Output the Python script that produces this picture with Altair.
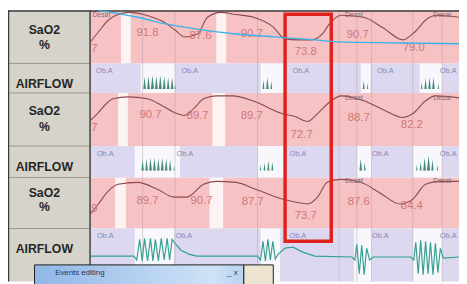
import altair as alt
import pandas as pd

# ---------------- data (screen-time units) ----------------
sao2_top = [8, 92, 178]
sao2_bot = [62, 146, 230]
air_top = [62, 146, 230]
air_bot = [92, 178, 284]

# white (no desaturation) strips in SaO2 rows
sgap_row = [0, 0, 1, 1, 2, 2]
sgap_x1 = [123, 220, 120, 216, 117, 213]
sgap_x2 = [133, 230, 130, 229, 128, 227]

# white (breathing) segments in airflow rows
agap_row = [0, 0, 0, 0, 1, 1, 1, 1, 2, 2, 2, 2]
agap_x1 = [143, 265, 367, 427, 137, 262, 363, 420, 137, 265, 360, 420]
agap_x2 = [178, 289, 377, 450, 183, 290, 378, 450, 177, 285, 378, 450]

# faint event boundary lines
event_x = [145, 178, 262, 345, 363, 378, 420, 450]

# SaO2 traces
s1_x = [92, 100, 110, 118, 131, 145, 155, 167, 178, 188, 201, 211, 225, 238, 258, 278, 290, 303, 317, 328, 335, 347, 370, 390, 410, 422, 434, 444, 467]
s1_y = [40, 30, 18, 13, 10, 12, 15, 20, 28, 35, 32, 15, 10, 12, 15, 25, 37, 38, 38, 32, 22, 13, 15, 26, 38, 30, 17, 13, 15]
s2_x = [92, 100, 108, 115, 130, 150, 165, 180, 187, 197, 207, 220, 237, 257, 287, 300, 313, 323, 337, 347, 370, 390, 410, 420, 433, 443, 467]
s2_y = [120, 112, 103, 98, 96, 98, 105, 113, 115, 108, 98, 95, 95, 100, 113, 116, 121, 113, 100, 95, 100, 109, 117, 113, 100, 95, 97]
s3_x = [92, 100, 110, 120, 140, 160, 177, 190, 207, 220, 240, 260, 287, 300, 313, 323, 333, 347, 367, 387, 407, 420, 433, 447, 467]
s3_y = [215, 205, 192, 185, 183, 190, 198, 198, 185, 182, 183, 190, 200, 203, 205, 198, 183, 180, 183, 194, 205, 200, 185, 182, 182]

# SaO2 value labels
val_x = [88, 150, 204, 256, 311, 364, 421,
         88, 153, 201, 256, 307, 365, 419,
         88, 150, 205, 257, 311, 365, 419]
val_y = [47, 31, 34, 32, 50, 33, 46,
         128, 115, 116, 116, 135, 118, 125,
         210, 202, 202, 203, 217, 203, 207]
val_t = ["87.7", "91.8", "87.6", "90.7", "73.8", "90.7", "79.0",
         "88.7", "90.7", "89.7", "89.7", "72.7", "88.7", "82.2",
         "89.9", "89.7", "90.7", "87.7", "73.7", "87.6", "84.4"]

# "Desat" markers
des_x = [103, 360, 450, 360, 450, 360, 450]
des_y = [13, 13, 13, 97, 97, 182, 182]

# "Ob.A" event labels
oba_x = [106, 193, 306, 392, 456, 107, 188, 303, 387, 456, 107, 187, 303, 387, 456]
oba_y = [70, 70, 70, 70, 70, 154, 154, 154, 154, 154, 238, 238, 238, 238, 238]

# airflow breath spikes (rows 1-2)
spk_x = [147, 151, 155, 159, 163, 167, 171, 175, 178, 268, 272, 276, 370, 374, 429, 433, 437, 441, 446,
         145, 149, 153, 157, 161, 165, 169, 173, 177, 265, 269, 273, 277, 367, 371, 424, 428, 432, 436, 440, 445]
spk_base = [88] * 19 + [171] * 21
spk_h = [12, 13, 14, 13, 14, 13, 12, 12, 5, 9, 12, 8, 9, 6, 7, 11, 12, 12, 6,
         11, 12, 13, 13, 12, 13, 12, 11, 5, 6, 8, 10, 9, 12, 8, 6, 9, 13, 15, 11, 6]

# airflow trace row 3
a3_x = [92, 136, 139, 142, 144.5, 147, 150, 153, 155.5, 158, 161, 164, 167, 170, 172.5, 175, 178,
        184, 192, 200, 262, 265, 267.5, 270, 272.5, 275, 277.5, 280, 283,
        290, 298, 308, 320, 358, 361, 363, 365.5, 368, 370.5, 373, 376, 380,
        418, 421, 423, 425.5, 428, 430.5, 433, 435.5, 438, 440.5, 443, 445.5, 448, 451, 467]
a3_y = [258, 258, 262, 241, 263, 240, 263, 240, 263, 241, 263, 240, 262, 240, 262, 241, 245,
        252, 256, 258, 258, 262, 243, 263, 241, 262, 243, 261, 256,
        250, 249, 254, 258, 259, 262, 246, 276, 247, 277, 250, 262, 259,
        259, 262, 244, 276, 242, 277, 243, 276, 244, 277, 245, 275, 250, 260, 259]

# cyan overlay line
cy_x = [100, 140, 170, 200, 240, 280, 320, 344, 400, 467]
cy_y = [8, 15, 22, 27, 32, 35, 38, 40, 41, 42]

# red highlight box
box = dict(x1=290, x2=337, y1=12, y2=243)

# label column texts
lab_t = ["SaO2", "%", "AIRFLOW", "SaO2", "%", "AIRFLOW", "SaO2", "%", "AIRFLOW"]
lab_y = [28, 43, 83, 110, 127, 167, 194, 208, 251]
sep_y = [62, 92, 146, 178, 230]

# ---------------- chart ----------------
XS = alt.Scale(domain=[8, 467], nice=False, zero=False)
YS = alt.Scale(domain=[8, 284], nice=False, zero=False, reverse=True)

def X(f="x"):
    return alt.X(f + ":Q", scale=XS, axis=None)

def Y(f="y"):
    return alt.Y(f + ":Q", scale=YS, axis=None)

def rects(df, color, **kw):
    return alt.Chart(df).mark_rect(color=color, **kw).encode(
        x=X("x1"), x2="x2:Q", y=Y("y1"), y2="y2:Q")

pink = rects(pd.DataFrame({"x1": [92] * 3, "x2": [467] * 3, "y1": sao2_top, "y2": sao2_bot}), "#f6c2c4")
sg = pd.DataFrame({"x1": sgap_x1, "x2": sgap_x2,
                   "y1": [sao2_top[r] for r in sgap_row], "y2": [sao2_bot[r] for r in sgap_row]})
swhite = rects(sg, "#fdf3f3")
lav = rects(pd.DataFrame({"x1": [92] * 3, "x2": [467] * 3, "y1": air_top, "y2": air_bot}), "#dbd8ef")
ag = pd.DataFrame({"x1": agap_x1, "x2": agap_x2,
                   "y1": [air_top[r] for r in agap_row], "y2": [air_bot[r] for r in agap_row]})
awhite = rects(ag, "#f8f8fc")

ev = alt.Chart(pd.DataFrame({"x": event_x, "y1": [8] * len(event_x), "y2": [284] * len(event_x)})).mark_rule(
    color="#b89aa4", opacity=0.45, strokeWidth=1).encode(x=X(), y=Y("y1"), y2="y2:Q")

tr = pd.concat([
    pd.DataFrame({"x": s1_x, "y": s1_y, "row": 1}),
    pd.DataFrame({"x": s2_x, "y": s2_y, "row": 2}),
    pd.DataFrame({"x": s3_x, "y": s3_y, "row": 3}),
])
sline = alt.Chart(tr).mark_line(color="#8e4a4e", strokeWidth=1.1, interpolate="monotone").encode(
    x=X(), y=Y(), detail="row:N")

vals = alt.Chart(pd.DataFrame({"x": val_x, "y": val_y, "t": val_t})).mark_text(
    font="Liberation Sans", fontSize=11.5, color="#d27678").encode(x=X(), y=Y(), text="t:N")

des = alt.Chart(pd.DataFrame({"x": des_x, "y": des_y, "t": ["Desat"] * len(des_x)})).mark_text(
    font="Liberation Sans", fontSize=7, color="#8a6a70").encode(x=X(), y=Y(), text="t:N")

oba = alt.Chart(pd.DataFrame({"x": oba_x, "y": oba_y, "t": ["Ob.A"] * len(oba_x)})).mark_text(
    font="Liberation Sans", fontSize=7.5, color="#8a88b0").encode(x=X(), y=Y(), text="t:N")

sp = pd.DataFrame({"x": spk_x, "y": spk_base, "h": spk_h})
sp["sz"] = sp["h"] ** 2
spikes = alt.Chart(sp).mark_point(filled=True, shape="M-0.22,0L0,-2L0.22,0Z", color="#2f7d6c",
                                  opacity=0.9).encode(x=X(), y=Y(), size=alt.Size("sz:Q", scale=None, legend=None))

a3 = alt.Chart(pd.DataFrame({"x": a3_x, "y": a3_y})).mark_line(
    color="#35a091", strokeWidth=1.2).encode(x=X(), y=Y())

redbox = alt.Chart(pd.DataFrame([box])).mark_rect(
    fill=None, fillOpacity=0, stroke="#e2201e", strokeWidth=3.5).encode(
    x=X("x1"), x2="x2:Q", y=Y("y1"), y2="y2:Q")

labcol = rects(pd.DataFrame({"x1": [8], "x2": [91], "y1": [8], "y2": [284]}), "#d6d3ca")
seps = alt.Chart(pd.DataFrame({"x1": [8] * 5, "x2": [91] * 5, "y": sep_y})).mark_rule(
    color="#9a978e", strokeWidth=1).encode(x=X("x1"), x2="x2:Q", y=Y())
labs = alt.Chart(pd.DataFrame({"x": [45] * 9, "y": lab_y, "t": lab_t})).mark_text(
    font="Liberation Sans", fontSize=12.5, fontWeight="bold", color="#262626").encode(
    x=X(), y=Y(), text="t:N")

frame_v = alt.Chart(pd.DataFrame({"x": [8.5, 91.5], "y1": [8, 8], "y2": [284, 284]})).mark_rule(
    color="#3a3a3a", strokeWidth=1.5).encode(x=X(), y=Y("y1"), y2="y2:Q")
frame_h = alt.Chart(pd.DataFrame({"x1": [8], "x2": [467], "y": [8.5]})).mark_rule(
    color="#3a3a3a", strokeWidth=1.5).encode(x=X("x1"), x2="x2:Q", y=Y())

cyan = alt.Chart(pd.DataFrame({"x": cy_x, "y": cy_y})).mark_line(
    color="#3ab2ea", strokeWidth=1.4, interpolate="monotone").encode(x=X(), y=Y())

grad = alt.Gradient(gradient="linear", x1=0, x2=1, y1=0, y2=0,
                    stops=[alt.GradientStop(color="#8fb7e6", offset=0),
                           alt.GradientStop(color="#cfe2f7", offset=0.85),
                           alt.GradientStop(color="#b9d3f0", offset=1)])
dlg = alt.Chart(pd.DataFrame({"x1": [35], "x2": [248], "y1": [267], "y2": [290]})).mark_rect(
    color=grad, stroke="#1e1e1e", strokeWidth=1).encode(x=X("x1"), x2="x2:Q", y=Y("y1"), y2="y2:Q")
dlg2 = alt.Chart(pd.DataFrame({"x1": [248], "x2": [278], "y1": [267], "y2": [290]})).mark_rect(
    color="#ede5d2", stroke="#1e1e1e", strokeWidth=1).encode(x=X("x1"), x2="x2:Q", y=Y("y1"), y2="y2:Q")
dlg_t = alt.Chart(pd.DataFrame({"x": [56, 231], "y": [275.5, 275.5], "t": ["Events editing", "_  x"]})).mark_text(
    font="Liberation Sans", fontSize=8, color="#2a3550", align="left").encode(x=X(), y=Y(), text="t:N")

chart = alt.layer(
    pink, swhite, lav, awhite, ev, sline, vals, des, oba, spikes, a3, redbox,
    labcol, seps, labs, frame_v, frame_h, cyan, dlg, dlg2, dlg_t
).properties(width=459, height=276, padding=0, autosize="none", background="#ffffff"
).configure_view(stroke=None)

chart.save("out.html", embed_options={"renderer": "svg", "actions": False})
